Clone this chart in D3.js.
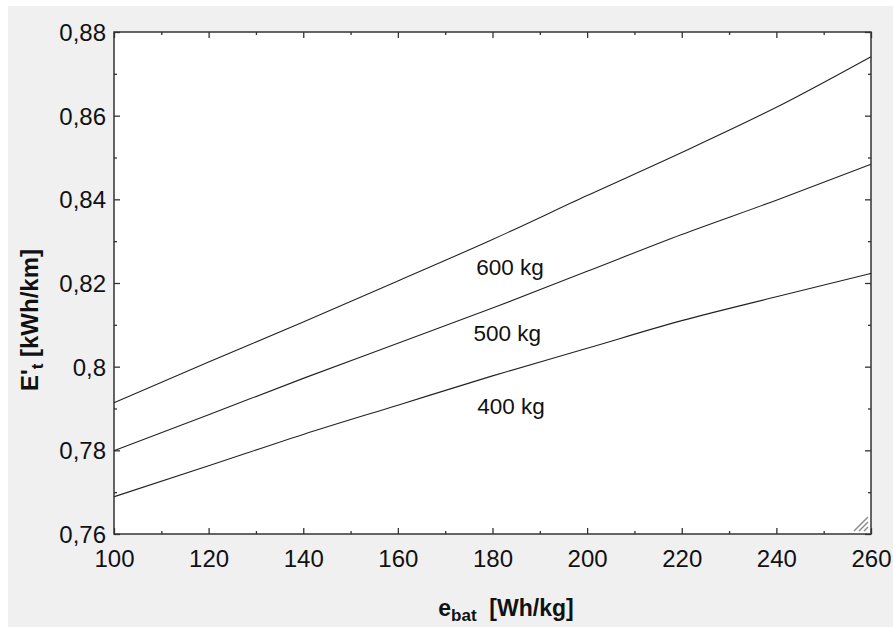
<!DOCTYPE html>
<html>
<head>
<meta charset="utf-8">
<script src="https://cdn.jsdelivr.net/npm/d3@7/dist/d3.min.js"></script>
<style>
  html, body { margin: 0; padding: 0; background: #ffffff; }
  svg { display: block; font-family: "Liberation Sans", Arial, sans-serif; }
</style>
</head>
<body>
<svg id="chart" width="893" height="628"></svg>
<script>
// Specific battery energy [Wh/kg]
const ebat = [100, 120, 140, 160, 180, 200, 220, 240, 260];
// Energy consumption per km for each battery mass [kWh/km]
const mass600 = [0.7914, 0.8011, 0.8107, 0.8205, 0.8304, 0.8409, 0.8512, 0.8620, 0.8741];
const mass500 = [0.7799, 0.7885, 0.7972, 0.8056, 0.8140, 0.8228, 0.8316, 0.8398, 0.8484];
const mass400 = [0.7689, 0.7763, 0.7838, 0.7908, 0.7978, 0.8044, 0.8110, 0.8167, 0.8223];
const seriesNames = ["600 kg", "500 kg", "400 kg"];
// Where each curve's label sits: [e_bat, E't]
const labelAnchors = [[183.7, 0.8219], [183.1, 0.8062], [183.9, 0.7887]];

const xTicks = [100, 120, 140, 160, 180, 200, 220, 240, 260];
const xMinorTicks = [110, 130, 150, 170, 190, 210, 230, 250];
const yTicks = [0.76, 0.78, 0.80, 0.82, 0.84, 0.86, 0.88];
const yTickLabels = ["0,76", "0,78", "0,8", "0,82", "0,84", "0,86", "0,88"];
const yMinorTicks = [0.77, 0.79, 0.81, 0.83, 0.85, 0.87];

const svg = d3.select("#chart");

// window-style grey panel
svg.append("rect").attr("x", 8).attr("y", 6).attr("width", 885).attr("height", 621)
  .attr("fill", "#f0f0f0");

const plot = { left: 114, right: 871, top: 32, bottom: 534 };

const x = d3.scaleLinear().domain([100, 260]).range([plot.left, plot.right]);
const y = d3.scaleLinear().domain([0.76, 0.88]).range([plot.bottom, plot.top]);

svg.append("rect")
  .attr("x", plot.left).attr("y", plot.top)
  .attr("width", plot.right - plot.left).attr("height", plot.bottom - plot.top)
  .attr("fill", "#ffffff");

// inward ticks on all four sides
const axisColor = "#333";
function styleAxis(g) {
  g.select(".domain").remove();
  g.selectAll(".tick line").attr("stroke", axisColor).attr("stroke-width", 1.3);
}
svg.append("g").attr("transform", `translate(0,${plot.bottom})`)
  .call(d3.axisBottom(x).tickValues(xTicks).tickSize(-6).tickFormat(""))
  .call(styleAxis);
svg.append("g").attr("transform", `translate(0,${plot.bottom})`)
  .call(d3.axisBottom(x).tickValues(xMinorTicks).tickSize(-3).tickFormat(""))
  .call(styleAxis);
svg.append("g").attr("transform", `translate(0,${plot.top})`)
  .call(d3.axisTop(x).tickValues(xTicks).tickSize(-6).tickFormat(""))
  .call(styleAxis);
svg.append("g").attr("transform", `translate(0,${plot.top})`)
  .call(d3.axisTop(x).tickValues(xMinorTicks).tickSize(-3).tickFormat(""))
  .call(styleAxis);
svg.append("g").attr("transform", `translate(${plot.left},0)`)
  .call(d3.axisLeft(y).tickValues(yTicks).tickSize(-6).tickFormat(""))
  .call(styleAxis);
svg.append("g").attr("transform", `translate(${plot.left},0)`)
  .call(d3.axisLeft(y).tickValues(yMinorTicks).tickSize(-3).tickFormat(""))
  .call(styleAxis);
svg.append("g").attr("transform", `translate(${plot.right},0)`)
  .call(d3.axisRight(y).tickValues(yTicks).tickSize(-6).tickFormat(""))
  .call(styleAxis);
svg.append("g").attr("transform", `translate(${plot.right},0)`)
  .call(d3.axisRight(y).tickValues(yMinorTicks).tickSize(-3).tickFormat(""))
  .call(styleAxis);

// tick labels
const xLabels = svg.append("g").attr("transform", `translate(0,${plot.bottom})`)
  .call(d3.axisBottom(x).tickValues(xTicks).tickSize(0).tickPadding(33).tickFormat(d3.format("d")));
xLabels.select(".domain").remove();
xLabels.selectAll("text").attr("font-size", 24).attr("fill", "#111")
  .attr("font-family", "Liberation Sans, Arial, sans-serif").attr("dy", 0);

const yLabels = svg.append("g").attr("transform", `translate(${plot.left},0)`)
  .call(d3.axisLeft(y).tickValues(yTicks).tickSize(0).tickPadding(8)
    .tickFormat((d, i) => yTickLabels[i]));
yLabels.select(".domain").remove();
yLabels.selectAll("text").attr("font-size", 24).attr("fill", "#111")
  .attr("font-family", "Liberation Sans, Arial, sans-serif").attr("dy", "0.35em");

// plot frame
svg.append("rect")
  .attr("x", plot.left).attr("y", plot.top)
  .attr("width", plot.right - plot.left).attr("height", plot.bottom - plot.top)
  .attr("fill", "none").attr("stroke", axisColor).attr("stroke-width", 1.5);

// curves
const series = [mass600, mass500, mass400];
const line = d3.line()
  .x((d, i) => x(ebat[i]))
  .y(d => y(d))
  .curve(d3.curveMonotoneX);
svg.append("g").selectAll("path").data(series).join("path")
  .attr("d", line)
  .attr("fill", "none")
  .attr("stroke", "#222")
  .attr("stroke-width", 1.1);

// curve labels
svg.append("g").selectAll("text").data(seriesNames).join("text")
  .attr("x", (d, i) => x(labelAnchors[i][0]))
  .attr("y", (d, i) => y(labelAnchors[i][1]))
  .attr("text-anchor", "middle")
  .attr("font-size", 22.5)
  .attr("fill", "#111")
  .text(d => d);

// axis titles
const xt = svg.append("text")
  .attr("x", 506).attr("y", 616)
  .attr("text-anchor", "middle")
  .attr("font-weight", "bold")
  .attr("font-size", 23)
  .attr("fill", "#111");
xt.append("tspan").text("e");
xt.append("tspan").attr("font-size", 17).attr("dy", 5).text("bat");
xt.append("tspan").attr("dy", -5).text("\u00a0\u00a0[Wh/kg]");

const yt = svg.append("text")
  .attr("transform", "translate(38,320) rotate(-90)")
  .attr("text-anchor", "middle")
  .attr("font-weight", "bold")
  .attr("font-size", 24)
  .attr("fill", "#111");
yt.append("tspan").text("E'");
yt.append("tspan").attr("font-size", 17).attr("dy", 5).text("t");
yt.append("tspan").attr("dy", -5).text(" [kWh/km]");

// size grip in the corner
const grip = svg.append("g").attr("stroke", "#8a8a8a").attr("stroke-width", 1.4);
[4, 9, 14].forEach(o => {
  grip.append("line")
    .attr("x1", plot.right - 3 - o).attr("y1", plot.bottom - 3)
    .attr("x2", plot.right - 3).attr("y2", plot.bottom - 3 - o);
});
</script>
</body>
</html>
